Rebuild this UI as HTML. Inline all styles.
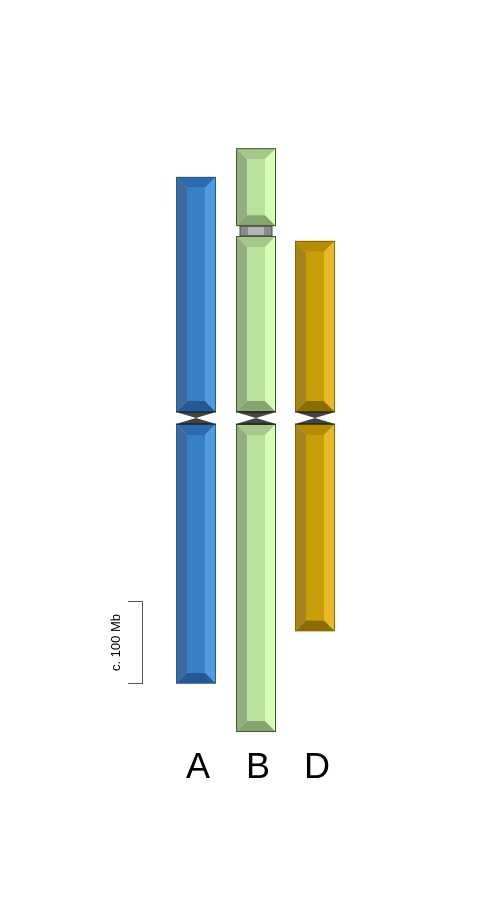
<!DOCTYPE html>
<html><head><meta charset="utf-8"><style>
html,body{margin:0;padding:0;background:#fff;}
svg{display:block;font-family:"Liberation Sans",sans-serif;}
</style></head><body>
<svg id="chart" width="490" height="910" viewBox="0 0 490 910" xmlns="http://www.w3.org/2000/svg"></svg>
<script>
// data: chromosome names and arm extents in Mb relative to centromere (scale bar 100 Mb)
const genomes = ["A","B","D"];
const shortArmStart = [-294, -329, -216];   // Mb above centromere
const longArmEnd = [324, 383, 260];         // Mb below centromere
const satelliteMb = [null, [-234, -222], null];
const scaleBarMb = 100;

const svg = document.getElementById('chart');
const NS = 'http://www.w3.org/2000/svg';
const pxPerMb = 82 / scaleBarMb;
const cenY = 418;
const colX = [176, 236, 295];
const W = 40;
const palettes = [
  {face:'#3780c6', left:'#3d6a9c', right:'#4d9ce0', top:'#2d69ad', bot:'#265895', stroke:'#2a5a90'},
  {face:'#b9e19c', left:'#93ad80', right:'#d5fdb6', top:'#a6c98b', bot:'#86a46f', stroke:'#3d5a2e'},
  {face:'#c99e08', left:'#a58420', right:'#e9b928', top:'#b58e00', bot:'#8c6d00', stroke:'#8a6a00'}
];
const yOf = mb => cenY + mb * pxPerMb;

function el(tag, attrs, parent){
  const e = document.createElementNS(NS, tag);
  for (const k in attrs) e.setAttribute(k, attrs[k]);
  (parent||svg).appendChild(e);
  return e;
}
function poly(pts, fill, g){ return el('polygon',{points:pts.map(p=>p.join(',')).join(' '),fill:fill},g); }

function bevel(g, x, y1, y2, p){
  const b = 11, x2 = x + W;
  poly([[x,y1],[x2,y1],[x2-b,y1+b],[x+b,y1+b]], p.top, g);
  poly([[x,y2],[x2,y2],[x2-b,y2-b],[x+b,y2-b]], p.bot, g);
  poly([[x,y1],[x+b,y1+b],[x+b,y2-b],[x,y2]], p.left, g);
  poly([[x2,y1],[x2-b,y1+b],[x2-b,y2-b],[x2,y2]], p.right, g);
  el('rect',{x:x+b,y:y1+b,width:W-2*b,height:y2-y1-2*b,fill:p.face},g);
  el('rect',{x:x+0.5,y:y1+0.5,width:W-1,height:y2-y1-1,fill:'none',stroke:p.stroke,'stroke-width':1},g);
}

genomes.forEach((name, i) => {
  const g = el('g',{});
  
  
  const x = colX[i], p = palettes[i];
  const top = yOf(shortArmStart[i]);
  const bottom = yOf(longArmEnd[i]);
  if (satelliteMb[i]) {
    const s1 = yOf(satelliteMb[i][0]), s2 = yOf(satelliteMb[i][1]);
    bevel(g, x, top, s1, p);
    const sat = el('g',{},g);
    
    
    el('rect',{x:x+4,y:s1,width:W-8,height:s2-s1,fill:'#8a8a8a',stroke:'#444','stroke-width':1},sat);
    el('rect',{x:x+12,y:s1+1,width:W-24,height:s2-s1-2,fill:'#b5b5b5'},sat);
    bevel(g, x, s2, cenY-6, p);
  } else {
    bevel(g, x, top, cenY-6, p);
  }
  bevel(g, x, cenY+6, bottom, p);
  const c = el('g',{},g);
  
  
  poly([[x,cenY-6],[x+W,cenY-6],[x+W/2,cenY]], '#444', c);
  poly([[x,cenY+6],[x+W,cenY+6],[x+W/2,cenY]], '#444', c);
  el('line',{x1:x,y1:cenY-6,x2:x+W,y2:cenY-6,stroke:'#111','stroke-width':1},c);
  el('line',{x1:x,y1:cenY+6,x2:x+W,y2:cenY+6,stroke:'#111','stroke-width':1},c);
  const t = el('text',{x:x+W/2+2,y:778,'text-anchor':'middle','font-size':36,fill:'#000'});
  t.textContent = name;
  
  
});

// scale bar
const sb = el('g',{});


const sbBottom = 683.5, sbTop = sbBottom - scaleBarMb * pxPerMb;
el('path',{d:`M128,${sbTop} H142.5 V${sbBottom} H128`,fill:'none',stroke:'#555','stroke-width':1},sb);
const st = el('text',{x:0,y:0,'text-anchor':'middle','font-size':13,fill:'#000',transform:`translate(120,${(sbTop+sbBottom)/2}) rotate(-90)`},sb);
st.textContent = 'c. 100 Mb';


</script>
</body></html>
